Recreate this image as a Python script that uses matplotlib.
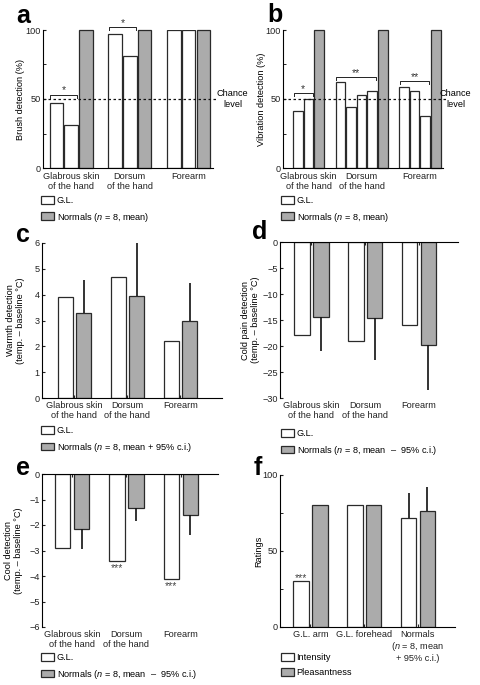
import matplotlib.pyplot as plt
from matplotlib.patches import Patch
import numpy as np

plt.rcParams['font.family'] = ['Liberation Sans', 'DejaVu Sans']
plt.rcParams['mathtext.fontset'] = 'custom'
plt.rcParams['mathtext.it'] = 'Liberation Sans:italic'

# ---- data ----
sites = ['Glabrous skin\nof the hand', 'Dorsum\nof the hand', 'Forearm']

# a: brush detection (%), G.L. sessions per site, then normals mean
a_gl = [[47, 31], [97, 81], [100, 100]]
a_norm = [100, 100, 100]
a_sig = [(0, 0, 1, 53, '*'), (1, 0, 1, 102, '*')]    # (group, first, last, y, label)

# b: vibration detection (%)
b_gl = [[41, 50], [62, 44, 53, 56], [59, 56, 38]]
b_norm = [100, 100, 100]
b_sig = [(0, 0, 1, 54, '*'), (1, 0, 3, 66, '**'), (2, 0, 2, 63, '**')]

# c: warmth detection
c_gl = [3.9, 4.7, 2.2]
c_norm = [3.3, 3.93, 3.0]
c_ci = [4.58, 6.0, 4.45]

# d: cold pain detection
d_gl = [-17.8, -19.0, -15.9]
d_norm = [-14.5, -14.7, -19.9]
d_ci = [-21.0, -22.6, -28.5]

# e: cool detection
e_gl = [-2.9, -3.4, -4.1]
e_norm = [-2.15, -1.33, -1.6]
e_ci = [-2.93, -1.85, -2.38]
e_stars = ['', '***', '***']

# f: ratings
f_cats = ['G.L. arm', 'G.L. forehead', 'Normals\n($\\it{n}$ = 8, mean\n+ 95% c.i.)']
f_int = [30, 80, 72]
f_pleas = [80, 80, 76]
f_int_ci = [np.nan, np.nan, 88]
f_pleas_ci = [np.nan, np.nan, 92]
f_stars = ['***', '', '']

W, H = 481, 685
GRAY = '#ababab'
EDGE = '#2a2a2a'
FS = 6.6

fig = plt.figure(figsize=(W / 100, H / 100), dpi=100)


def axes_px(l, t, r, b):
    return fig.add_axes([l / W, 1 - b / H, (r - l) / W, (b - t) / H])


def style(ax, top_axis=False):
    ax.spines['right'].set_visible(False)
    if top_axis:
        ax.spines['bottom'].set_visible(False)
        ax.tick_params(axis='x', bottom=False, top=True, labelbottom=True,
                       labeltop=False, direction='in', length=2, pad=2)
    else:
        ax.spines['top'].set_visible(False)
        ax.tick_params(axis='x', direction='in', length=2, pad=2)
    for s in ax.spines.values():
        s.set_linewidth(0.8)
    ax.tick_params(axis='y', direction='in', length=2.5, pad=1.5)
    ax.tick_params(which='minor', direction='in', length=2)
    ax.tick_params(labelsize=FS, colors='#222222')


def legend(x, y, labels):
    handles = [Patch(facecolor='white', edgecolor=EDGE, lw=0.9),
               Patch(facecolor=GRAY, edgecolor=EDGE, lw=0.9)]
    fig.legend(handles, labels, loc='upper left',
               bbox_to_anchor=(x / W, 1 - y / H), frameon=False,
               fontsize=FS, handlelength=1.45, handleheight=0.95,
               handletextpad=0.25, labelspacing=0.6, borderpad=0,
               borderaxespad=0)


def letter(x, y, s):
    fig.text(x / W, 1 - y / H, s, fontsize=18, fontweight='bold', va='baseline')


def slot_groups(gl):
    starts, s = [], 0
    for g in gl:
        starts.append(s)
        s += len(g) + 2
    return starts


def percent_panel(ax, gl, norm, sig, width, ylabel, chance_x):
    starts = slot_groups(gl)
    centers = []
    for st, g, n in zip(starts, gl, norm):
        xs = st + np.arange(len(g) + 1)
        ax.bar(xs[:-1], g, width, facecolor='white', edgecolor=EDGE, lw=0.9)
        ax.bar(xs[-1], n, width, facecolor=GRAY, edgecolor=EDGE, lw=0.9,
               clip_on=False)
        centers.append(xs.mean())
    for gi, i0, i1, y, lab in sig:
        x0 = starts[gi] + i0 - 0.4
        x1 = starts[gi] + i1 + 0.4
        ax.plot([x0, x0, x1, x1], [y - 2, y, y, y - 2], color='#222222',
                lw=0.7, clip_on=False)
        ax.text((x0 + x1) / 2, y - 0.5, lab, ha='center', va='bottom',
                fontsize=7.5, color='#333333')
    ax.axhline(50, xmax=1.02, color='#111111', lw=0.9, ls=(0, (2, 2)),
               clip_on=False)
    ax.text(chance_x, 50, 'Chance\nlevel', transform=ax.get_yaxis_transform(),
            ha='center', va='center', fontsize=FS, linespacing=1.15)
    ax.set_ylim(0, 100)
    ax.set_yticks([0, 50, 100])
    ax.set_yticks([25, 75], minor=True)
    ax.set_xticks(centers)
    ax.set_xticklabels(sites, linespacing=1.15)
    ax.tick_params(axis='x', length=0, pad=3)
    ax.set_ylabel(ylabel, fontsize=FS)


def pair_panel(ax, gl, norm, ci, labels):
    x = np.arange(len(gl))
    off, w = 0.175, 0.29
    ax.bar(x - off, gl, w, facecolor='white', edgecolor=EDGE, lw=0.9)
    ax.bar(x + off, norm, w, facecolor=GRAY, edgecolor=EDGE, lw=0.9)
    ci = np.asarray(ci, dtype=float)
    norm = np.asarray(norm, dtype=float)
    ax.vlines(x + off, norm, ci, color='#111111', lw=1.2)
    ax.set_xticks(x)
    ax.set_xticklabels(labels, linespacing=1.15)
    return x, off


# ---- a ----
ax = axes_px(43, 30, 213, 168)
style(ax)
percent_panel(ax, a_gl, a_norm, a_sig, 0.92, 'Brush detection (%)', 1.115)
ax.set_xlim(-0.91, 10.66)
ax.yaxis.set_label_coords(-0.108, 0.5)
letter(16, 23, 'a')
legend(41, 196, ['G.L.', 'Normals ($\\it{n}$ = 8, mean)'])

# ---- b ----
ax = axes_px(283, 30, 443, 168)
style(ax)
percent_panel(ax, b_gl, b_norm, b_sig, 0.9, 'Vibration detection (%)', 1.08)
ax.set_xlim(-1.42, 13.68)
ax.yaxis.set_label_coords(-0.108, 0.5)
letter(267, 22, 'b')
legend(281, 196, ['G.L.', 'Normals ($\\it{n}$ = 8, mean)'])

# ---- c ----
ax = axes_px(42, 243, 222, 398)
style(ax)
pair_panel(ax, c_gl, c_norm, c_ci, sites)
ax.set_xlim(-0.613, 2.783)
ax.set_ylim(0, 6)
ax.set_yticks(range(0, 7))
ax.set_ylabel('Warmth detection\n(temp. – baseline °C)', fontsize=FS,
              linespacing=1.15)
ax.yaxis.set_label_coords(-0.094, 0.5)
letter(16, 242, 'c')
legend(41, 426, ['G.L.', 'Normals ($\\it{n}$ = 8, mean + 95% c.i.)'])

# ---- d ----
ax = axes_px(280, 242, 458, 398)
style(ax, top_axis=True)
pair_panel(ax, d_gl, d_norm, d_ci, sites)
ax.set_xlim(-0.586, 2.726)
ax.set_ylim(-30, 0)
ax.set_yticks(range(-30, 1, 5))
ax.set_ylabel('Cold pain detection\n(temp. – baseline °C)', fontsize=FS,
              linespacing=1.15)
ax.yaxis.set_label_coords(-0.112, 0.5)
letter(252, 239, 'd')
legend(281, 429, ['G.L.', 'Normals ($\\it{n}$ = 8, mean  –  95% c.i.)'])

# ---- e ----
ax = axes_px(42, 474, 218, 627)
style(ax, top_axis=True)
x, off = pair_panel(ax, e_gl, e_norm, e_ci, sites)
for xi, v, s in zip(x, e_gl, e_stars):
    ax.text(xi - off, v - 0.1, s, ha='center', va='top', fontsize=7.5,
            color='#444444')
ax.set_xlim(-0.55, 2.68)
ax.set_ylim(-6, 0)
ax.set_yticks(range(-6, 1))
ax.set_ylabel('Cool detection\n(temp. – baseline °C)', fontsize=FS,
              linespacing=1.15)
ax.yaxis.set_label_coords(-0.108, 0.5)
letter(16, 475, 'e')
legend(41, 653, ['G.L.', 'Normals ($\\it{n}$ = 8, mean  –  95% c.i.)'])

# ---- f ----
ax = axes_px(280, 475, 455, 627)
style(ax)
x, off = pair_panel(ax, f_int, f_pleas, f_pleas_ci, f_cats)
ax.vlines(x - off, f_int, f_int_ci, color='#111111', lw=1.2)
for xi, v, s in zip(x, f_int, f_stars):
    ax.text(xi - off, v - 1, s, ha='center', va='bottom', fontsize=7.5,
            color='#444444')
ax.set_xlim(-0.567, 2.69)
ax.set_ylim(0, 100)
ax.set_yticks([0, 50, 100])
ax.set_yticks([25, 75], minor=True)
ax.set_ylabel('Ratings', fontsize=FS)
ax.yaxis.set_label_coords(-0.097, 0.5)
letter(254, 475, 'f')
handles = [Patch(facecolor='white', edgecolor=EDGE, lw=0.9),
           Patch(facecolor=GRAY, edgecolor=EDGE, lw=0.9)]
fig.legend(handles, ['Intensity', 'Pleasantness'], loc='upper left',
           bbox_to_anchor=(281 / W, 1 - 653 / H), frameon=False,
           fontsize=FS, handlelength=1.45, handleheight=0.95,
           handletextpad=0.25, labelspacing=0.6, borderpad=0,
           borderaxespad=0)

fig.savefig('out.png', dpi=100)
